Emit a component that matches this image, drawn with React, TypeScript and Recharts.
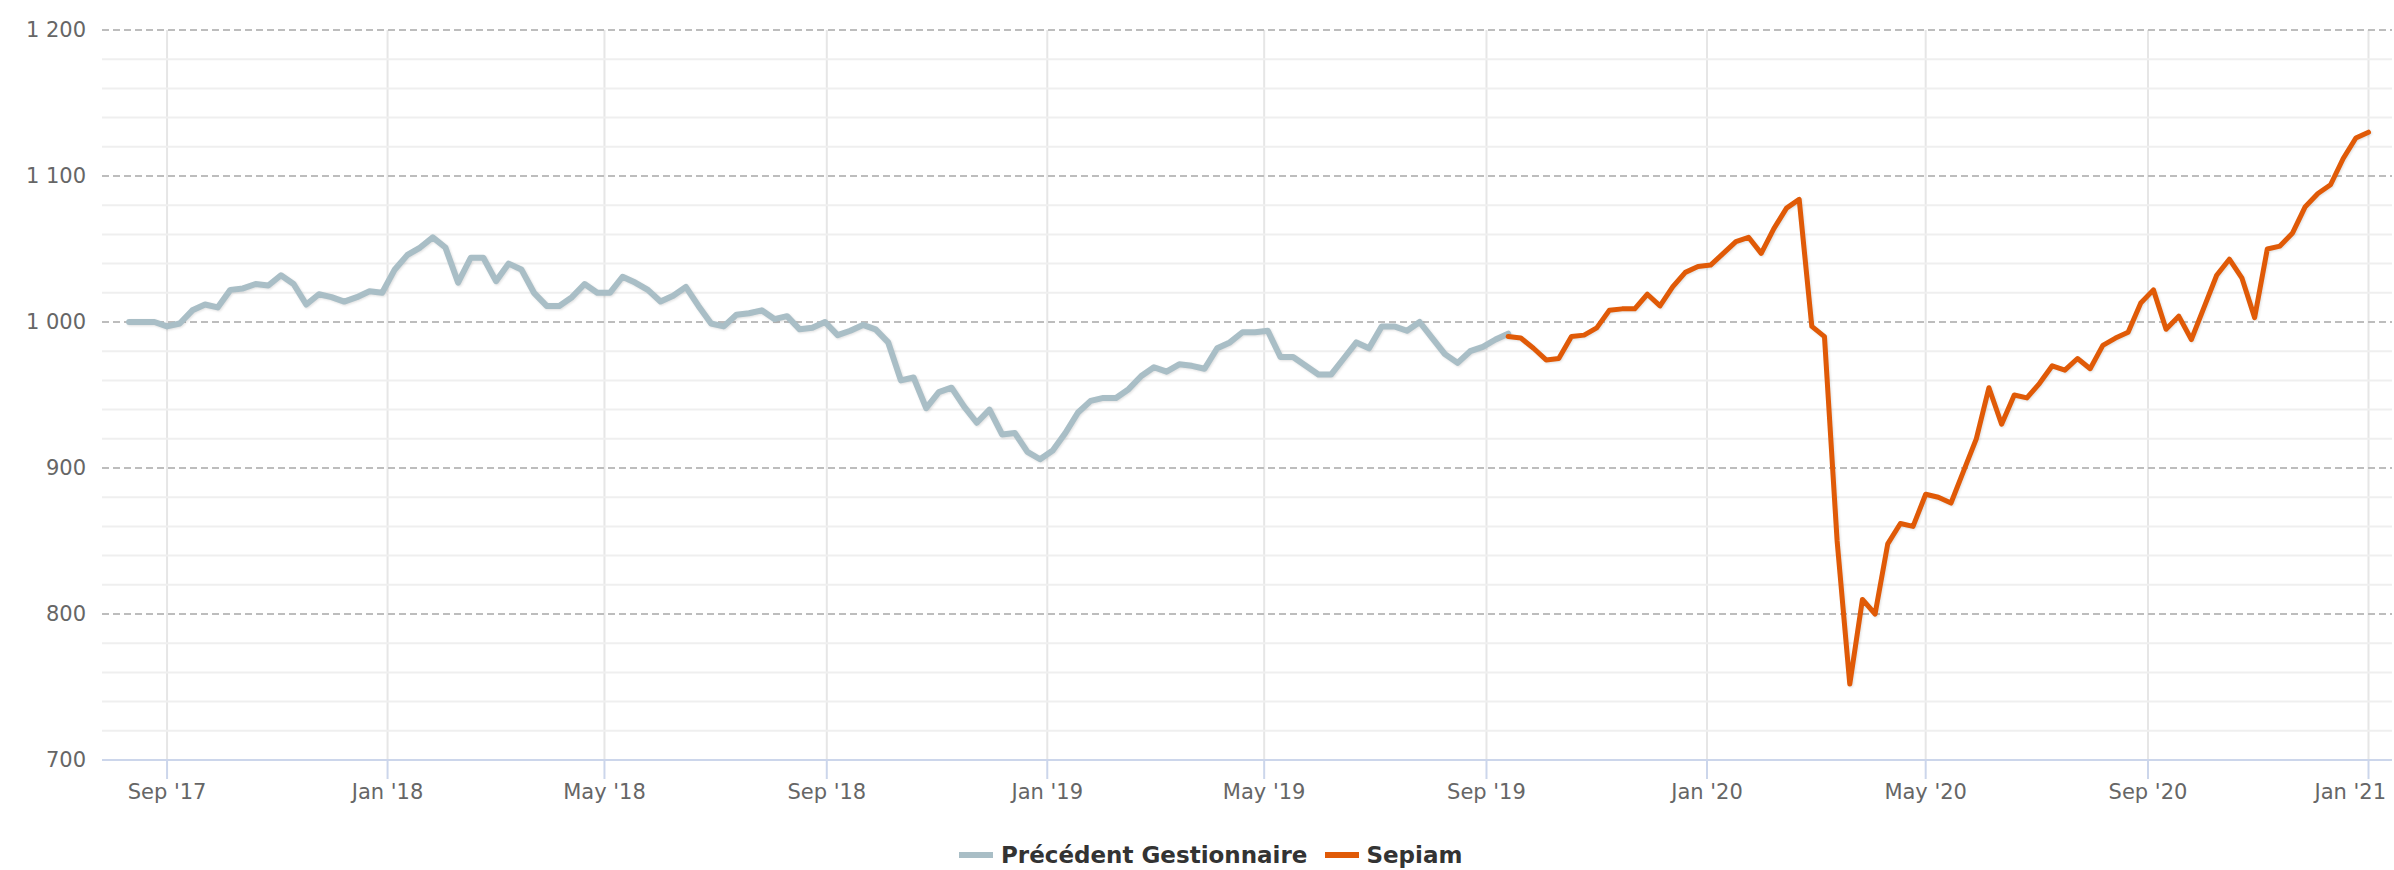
import { LineChart, Line, XAxis, YAxis, ReferenceLine } from "recharts";

// weekly closes
const previousStart = "2017-08-11";
const previousValues = [
  1000, 1000, 1000, 997, 999, 1008, 1012, 1010, 1022, 1023,
  1026, 1025, 1032, 1026, 1012, 1019, 1017, 1014, 1017, 1021,
  1020, 1036, 1046, 1051, 1058, 1051, 1027, 1044, 1044, 1028,
  1040, 1036, 1020, 1011, 1011, 1017, 1026, 1020, 1020, 1031,
  1027, 1022, 1014, 1018, 1024, 1011, 999, 997, 1005, 1006,
  1008, 1002, 1004, 995, 996, 1000, 991, 994, 998, 995,
  986, 960, 962, 941, 952, 955, 942, 931, 940, 923,
  924, 911, 906, 912, 924, 938, 946, 948, 948, 954,
  963, 969, 966, 971, 970, 968, 982, 986, 993, 993,
  994, 976, 976, 970, 964, 964, 975, 986, 982, 997,
  997, 994, 1000, 989, 978, 972, 980, 983, 988, 992,
];

const sepiamStart = "2019-09-13";
const sepiamValues = [
  990, 989, 982, 974, 975, 990, 991, 996, 1008, 1009,
  1009, 1019, 1011, 1024, 1034, 1038, 1039, 1047, 1055, 1058,
  1047, 1064, 1078, 1084, 997, 990, 850, 752, 810, 800,
  848, 862, 860, 882, 880, 876, 898, 920, 955, 930,
  950, 948, 958, 970, 967, 975, 968, 984, 989, 993,
  1013, 1022, 995, 1004, 988, 1010, 1032, 1043, 1030, 1003,
  1050, 1052, 1061, 1079, 1088, 1094, 1112, 1126, 1130,
];

const monthTicks = [
  "2017-09-01", "2018-01-01", "2018-05-01", "2018-09-01", "2019-01-01", "2019-05-01",
  "2019-09-01", "2020-01-01", "2020-05-01", "2020-09-01", "2021-01-01",
];
const monthLabels = [
  "Sep '17", "Jan '18", "May '18", "Sep '18", "Jan '19", "May '19",
  "Sep '19", "Jan '20", "May '20", "Sep '20", "Jan '21",
];
const majorTicks = [700, 800, 900, 1000, 1100, 1200];
const minorTicks = [
  720, 740, 760, 780, 820, 840, 860, 880, 920, 940, 960, 980,
  1020, 1040, 1060, 1080, 1120, 1140, 1160, 1180,
];
const xRange = ["2017-07-27", "2021-01-14"];

const DAY = 86400000;
const ts = (d: string) => Date.parse(d + "T00:00:00Z");

const weekly = (start: string, values: number[]) =>
  values.map((v, i) => ({ t: ts(start) + i * 7 * DAY, v }));

const previousData = weekly(previousStart, previousValues);
const sepiamData = weekly(sepiamStart, sepiamValues);
const tickTimes = monthTicks.map(ts);

const W = 2394;
const H = 870;
const GREY = "#a9bec6";
const ORANGE = "#e05a07";
const FONT = "'DejaVu Sans', 'Liberation Sans', sans-serif";

const fmtY = (v: number) =>
  v >= 1000 ? `${Math.floor(v / 1000)} ${String(v % 1000).padStart(3, "0")}` : String(v);

// last label would run off the right edge, so pull it back inside like the original does
function MonthTick(props: any) {
  const { x, y, payload } = props;
  const i = tickTimes.indexOf(payload.value);
  const label = monthLabels[i] ?? "";
  const last = i === tickTimes.length - 1;
  return (
    <text
      x={last ? W - 8 : x}
      y={y}
      dy="0.71em"
      textAnchor={last ? "end" : "middle"}
      fill="#666"
      fontSize={21}
      fontFamily={FONT}
    >
      {label}
    </text>
  );
}

const shadow = { filter: "drop-shadow(1px 1px 1px rgba(0,0,0,0.12))" };

export default function App() {
  return (
    <div style={{ position: "absolute", left: 0, top: 0, width: W, height: H, background: "#fff" }}>
      <LineChart width={W} height={H} margin={{ top: 30, right: 2, left: 0, bottom: 50 }}>
        <XAxis
          dataKey="t"
          type="number"
          domain={xRange.map(ts)}
          ticks={tickTimes}
          allowDataOverflow
          height={60}
          tickSize={19}
          tickMargin={5}
          stroke="#ccd6eb"
          strokeWidth={2}
          tick={<MonthTick />}
        />
        <YAxis
          type="number"
          domain={[700, 1200]}
          ticks={majorTicks}
          tickFormatter={fmtY}
          width={102}
          axisLine={false}
          tickLine={false}
          tickSize={0}
          tickMargin={16}
          tick={{ fill: "#666", fontSize: 21, fontFamily: FONT }}
        />
        {tickTimes.map((t) => (
          <ReferenceLine key={"v" + t} x={t} stroke="#e6e6e6" strokeWidth={2} />
        ))}
        {minorTicks.map((v) => (
          <ReferenceLine key={"m" + v} y={v} stroke="#efefef" strokeWidth={2} />
        ))}
        {majorTicks.map((v) => (
          <ReferenceLine key={"M" + v} y={v} stroke="#bdbdbd" strokeWidth={2} strokeDasharray="7 4" />
        ))}
        <Line
          data={previousData}
          dataKey="v"
          name="Précédent Gestionnaire"
          type="linear"
          stroke={GREY}
          strokeWidth={6}
          strokeLinejoin="round"
          strokeLinecap="round"
          dot={false}
          activeDot={false}
          isAnimationActive={false}
          style={shadow}
        />
        <Line
          data={sepiamData}
          dataKey="v"
          name="Sepiam"
          type="linear"
          stroke={ORANGE}
          strokeWidth={5}
          strokeLinejoin="round"
          strokeLinecap="round"
          dot={false}
          activeDot={false}
          isAnimationActive={false}
          style={shadow}
        />
      </LineChart>
      <div
        style={{
          position: "absolute",
          left: 959,
          top: 842,
          display: "flex",
          alignItems: "center",
          fontFamily: FONT,
          fontWeight: 700,
          fontSize: 23,
          color: "#333",
          whiteSpace: "nowrap",
        }}
      >
        <span style={{ display: "inline-block", width: 34, height: 6, background: GREY, marginRight: 8 }} />
        <span>Précédent Gestionnaire</span>
        <span style={{ display: "inline-block", width: 34, height: 6, background: ORANGE, margin: "0 7px 0 18px" }} />
        <span>Sepiam</span>
      </div>
    </div>
  );
}
